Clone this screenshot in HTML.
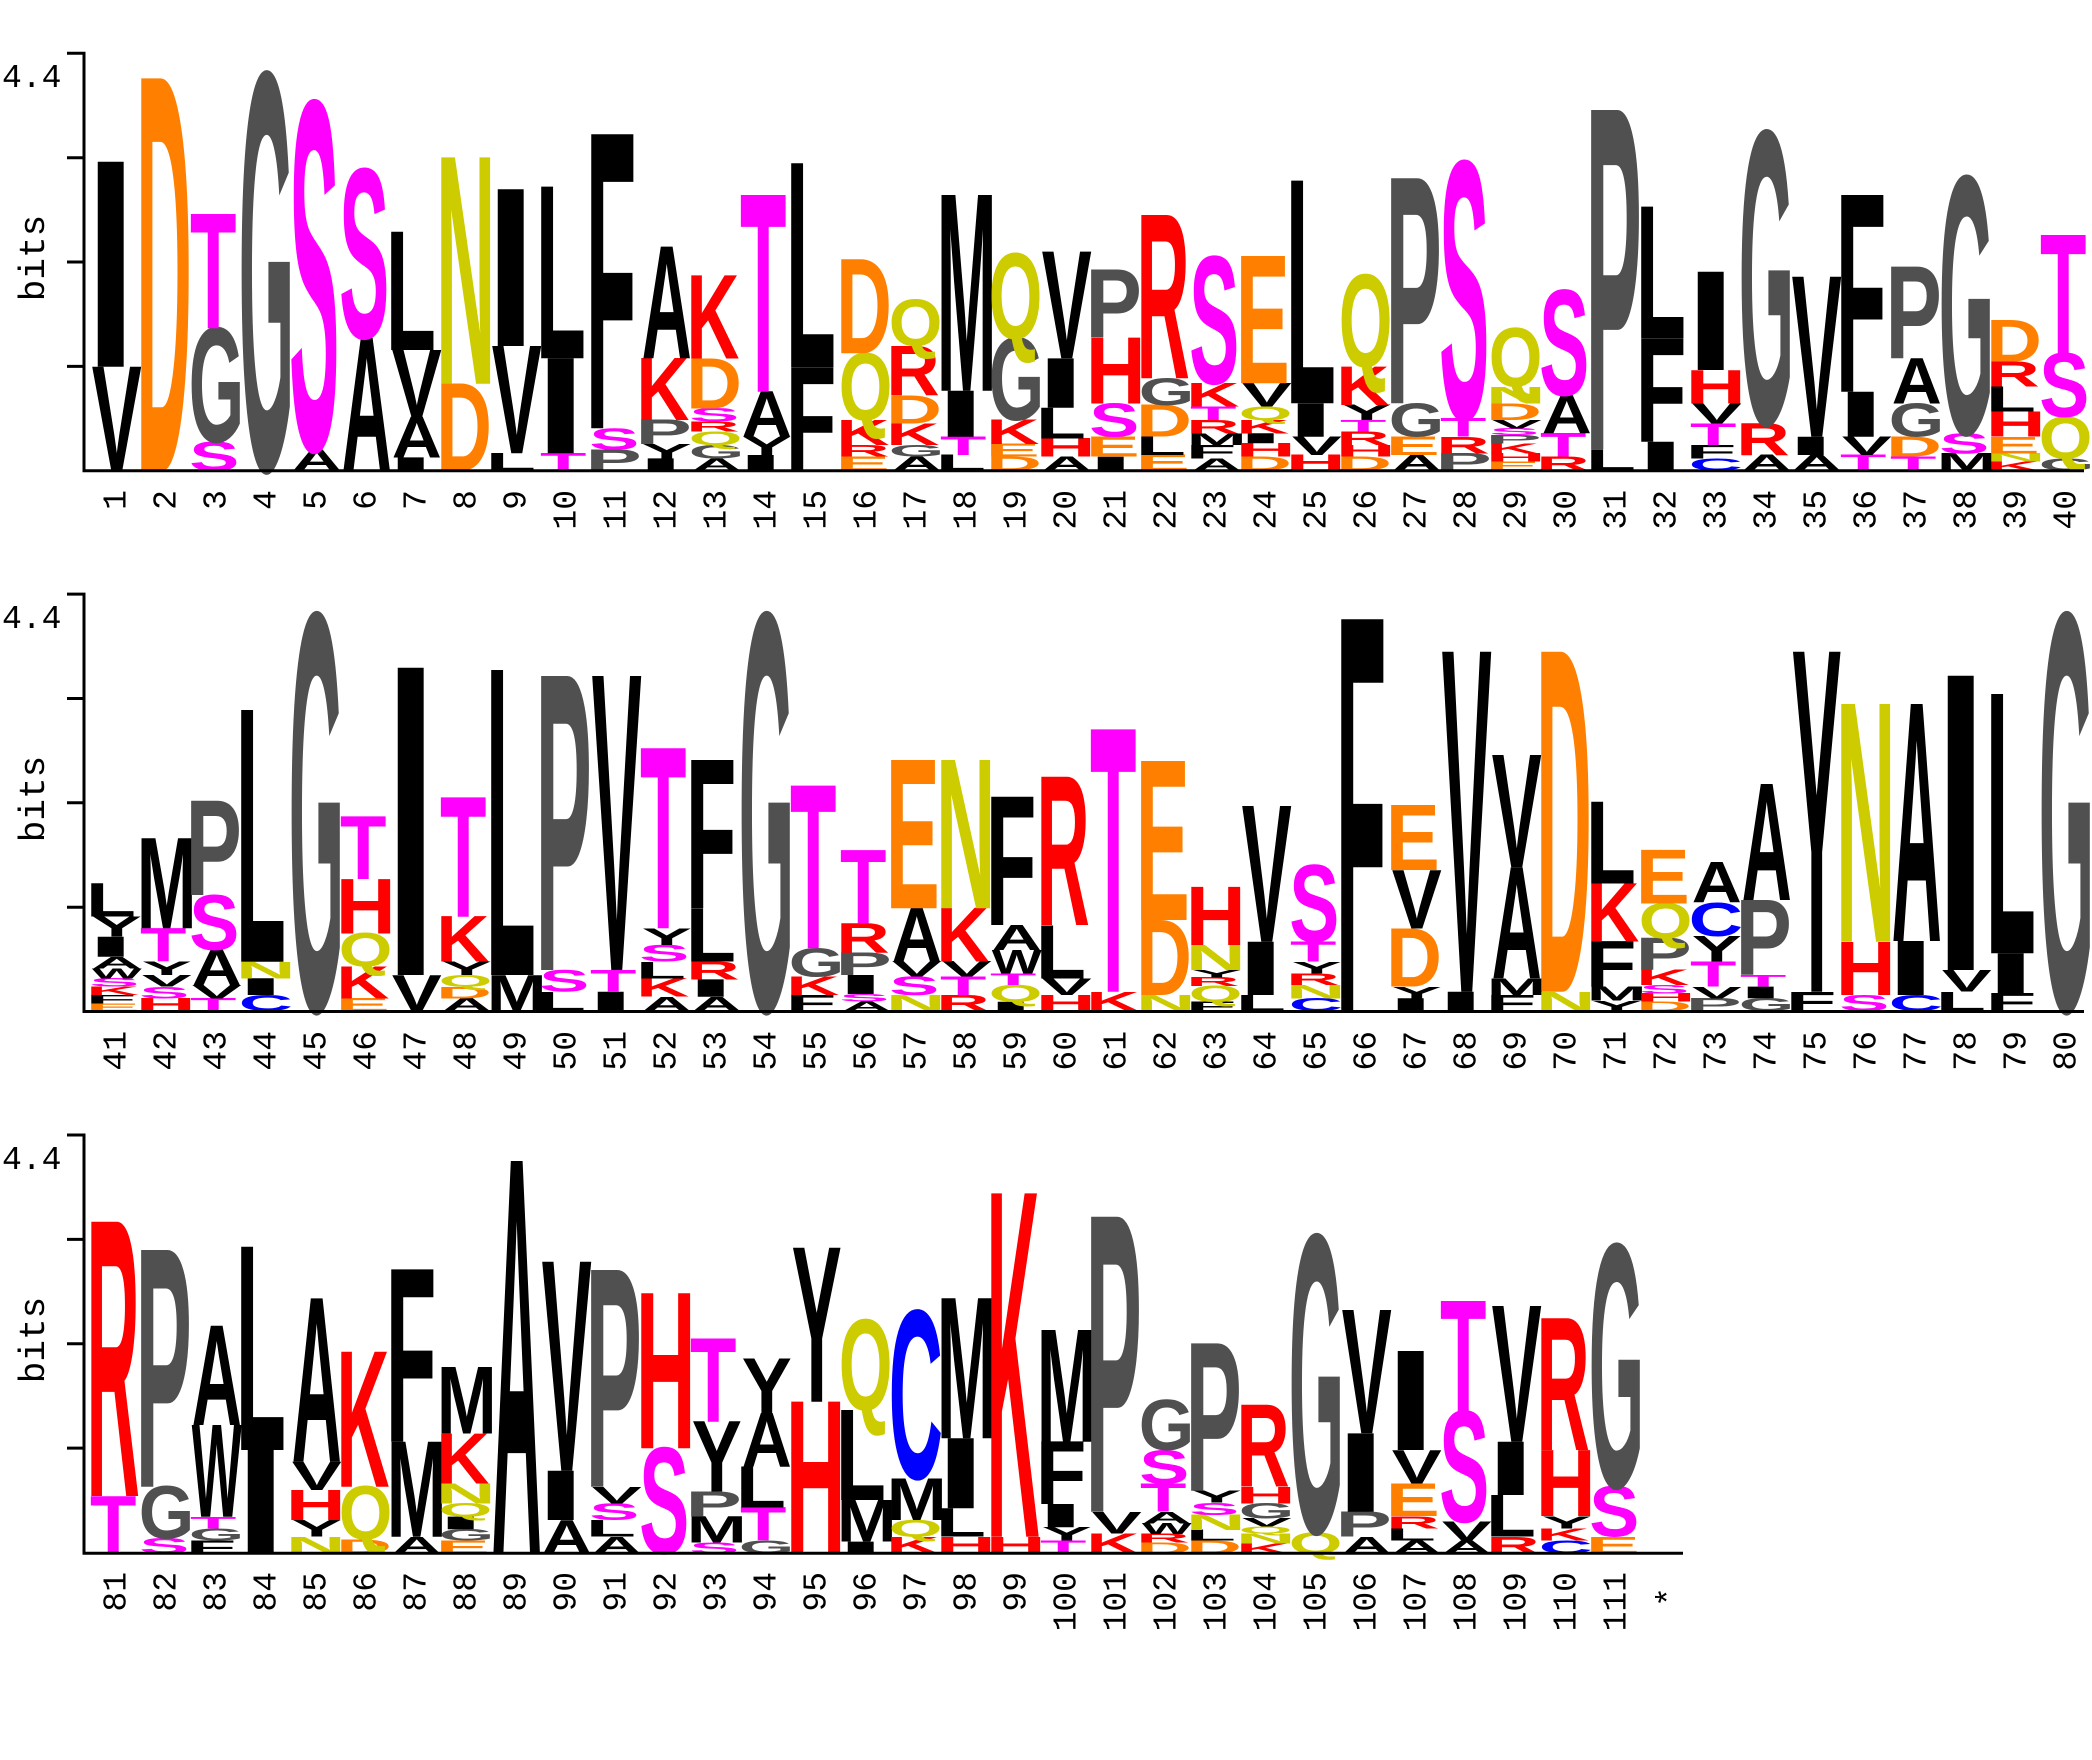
<!DOCTYPE html>
<html><head><meta charset="utf-8"><style>
body{margin:0;background:#fff}
svg{display:block}
text{font-family:"Liberation Sans",sans-serif;font-weight:bold;font-size:100px}
text.lb{font:33px "Liberation Mono",monospace;font-weight:normal;text-anchor:end;fill:#000}
text.yl{font:36px "Liberation Mono",monospace;font-weight:normal;text-anchor:middle;fill:#000}
text.tl{font:33px "Liberation Mono",monospace;font-weight:normal;fill:#000}
.A{fill:#000;transform:scale(.693,1.4535)}
.C{fill:#00f;transform:translate(-3px,0)scale(.75,1.4535)}
.D{fill:#ff8000;transform:translate(-5.6px,0)scale(.773,1.4535)}
.E{fill:#ff8000;transform:translate(-6px,0)scale(.81,1.4535)}
.F{fill:#000;transform:translate(-6px,0)scale(.83,1.4535)}
.G{fill:#505050;transform:translate(-3px,0)scale(.714,1.4535)}
.H{fill:#f00;transform:translate(-6px,0)scale(.831,1.4535)}
.I{fill:#000;transform:translate(-6px,0)scale(1.8,1.4535)}
.K{fill:#f00;transform:translate(-5.3px,0)scale(.734,1.4535)}
.L{fill:#000;transform:translate(-6px,0)scale(.823,1.4535)}
.M{fill:#000;transform:translate(-5px,0)scale(.72,1.4535)}
.N{fill:#cc0;transform:translate(-6px,0)scale(.831,1.4535)}
.P{fill:#505050;transform:translate(-6.2px,0)scale(.844,1.4535)}
.Q{fill:#cc0;transform:translate(-2.9px,0)scale(.69,1.4535)}
.R{fill:#f00;transform:translate(-5.3px,0)scale(.738,1.4535)}
.S{fill:#f0f;transform:translate(-2.5px,0)scale(.75,1.4535)}
.T{fill:#f0f;transform:translate(-1.7px,0)scale(.76,1.4535)}
.V{fill:#000;transform:scale(.75,1.4535)}
.W{fill:#000;transform:scale(.53,1.4535)}
.Y{fill:#000;transform:scale(.75,1.4535)}
</style></head><body>
<svg width="2092" height="1760" viewBox="0 0 2092 1760" xmlns="http://www.w3.org/2000/svg">
<rect width="2092" height="1760" fill="#fff"/>
<!-- Row 1 -->
<g transform="matrix(1,0,0,1.04,91.7,470.7)"><text class="V">V</text></g>
<g transform="matrix(1,0,0,2.05,91.7,366.7)"><text class="I">I</text></g>
<g transform="matrix(1,0,0,3.923,141.7,470.7)"><text class="D">D</text></g>
<g transform="matrix(1,0,0,.29,191.7,470.7)"><text class="S">S</text></g>
<g transform="matrix(1,0,0,1.133,191.7,441.7)"><text class="G">G</text></g>
<g transform="matrix(1,0,0,1.143,191.7,328.3)"><text class="T">T</text></g>
<g transform="matrix(1,0,0,3.933,241.7,469.3)"><text class="G">G</text></g>
<g transform="matrix(1,0,0,.213,291.7,470.7)"><text class="A">A</text></g>
<g transform="matrix(1,0,0,3.453,291.7,449.3)"><text class="S">S</text></g>
<g transform="matrix(1,0,0,1.33,341.7,470.7)"><text class="A">A</text></g>
<g transform="matrix(1,0,0,1.677,341.7,337.7)"><text class="S">S</text></g>
<g transform="matrix(1,0,0,.133,391.7,470.7)"><text class="I">I</text></g>
<g transform="matrix(1,0,0,.407,391.7,457.3)"><text class="A">A</text></g>
<g transform="matrix(1,0,0,.667,391.7,416.7)"><text class="V">V</text></g>
<g transform="matrix(1,0,0,1.183,391.7,350)"><text class="L">L</text></g>
<g transform="matrix(1,0,0,.87,441.7,470.7)"><text class="D">D</text></g>
<g transform="matrix(1,0,0,2.263,441.7,383.7)"><text class="N">N</text></g>
<g transform="matrix(1,0,0,.173,491.7,470.7)"><text class="L">L</text></g>
<g transform="matrix(1,0,0,1.073,491.7,453.3)"><text class="V">V</text></g>
<g transform="matrix(1,0,0,1.567,491.7,346)"><text class="I">I</text></g>
<g transform="matrix(1,0,0,.173,541.7,470.7)"><text class="T">T</text></g>
<g transform="matrix(1,0,0,.95,541.7,453.3)"><text class="I">I</text></g>
<g transform="matrix(1,0,0,1.717,541.7,358.3)"><text class="L">L</text></g>
<g transform="matrix(1,0,0,.213,591.7,470.7)"><text class="P">P</text></g>
<g transform="matrix(1,0,0,.21,591.7,449.3)"><text class="S">S</text></g>
<g transform="matrix(1,0,0,2.94,591.7,428.3)"><text class="F">F</text></g>
<g transform="matrix(1,0,0,.123,641.7,470.7)"><text class="I">I</text></g>
<g transform="matrix(1,0,0,.143,641.7,458.3)"><text class="Y">Y</text></g>
<g transform="matrix(1,0,0,.24,641.7,444)"><text class="P">P</text></g>
<g transform="matrix(1,0,0,.617,641.7,420)"><text class="K">K</text></g>
<g transform="matrix(1,0,0,1.117,641.7,358.3)"><text class="A">A</text></g>
<g transform="matrix(1,0,0,.123,691.7,470.7)"><text class="A">A</text></g>
<g transform="matrix(1,0,0,.133,691.7,458.3)"><text class="G">G</text></g>
<g transform="matrix(1,0,0,.133,691.7,445)"><text class="Q">Q</text></g>
<g transform="matrix(1,0,0,.10,691.7,431.7)"><text class="R">R</text></g>
<g transform="matrix(1,0,0,.133,691.7,421.7)"><text class="S">S</text></g>
<g transform="matrix(1,0,0,.50,691.7,408.3)"><text class="D">D</text></g>
<g transform="matrix(1,0,0,.833,691.7,358.3)"><text class="K">K</text></g>
<g transform="matrix(1,0,0,.157,741.7,470.7)"><text class="I">I</text></g>
<g transform="matrix(1,0,0,.183,741.7,455)"><text class="Y">Y</text></g>
<g transform="matrix(1,0,0,.45,741.7,436.7)"><text class="A">A</text></g>
<g transform="matrix(1,0,0,1.967,741.7,391.7)"><text class="T">T</text></g>
<g transform="matrix(1,0,0,1.033,791.7,470.7)"><text class="F">F</text></g>
<g transform="matrix(1,0,0,2.04,791.7,367.3)"><text class="L">L</text></g>
<g transform="matrix(1,0,0,.14,841.7,470.7)"><text class="E">E</text></g>
<g transform="matrix(1,0,0,.117,841.7,456.7)"><text class="R">R</text></g>
<g transform="matrix(1,0,0,.25,841.7,445)"><text class="K">K</text></g>
<g transform="matrix(1,0,0,.667,841.7,420)"><text class="Q">Q</text></g>
<g transform="matrix(1,0,0,.94,841.7,353.3)"><text class="D">D</text></g>
<g transform="matrix(1,0,0,.14,891.7,470.7)"><text class="A">A</text></g>
<g transform="matrix(1,0,0,.117,891.7,456.7)"><text class="G">G</text></g>
<g transform="matrix(1,0,0,.217,891.7,445)"><text class="K">K</text></g>
<g transform="matrix(1,0,0,.283,891.7,423.3)"><text class="D">D</text></g>
<g transform="matrix(1,0,0,.49,891.7,395)"><text class="R">R</text></g>
<g transform="matrix(1,0,0,.46,891.7,346)"><text class="Q">Q</text></g>
<g transform="matrix(1,0,0,.157,941.7,470.7)"><text class="L">L</text></g>
<g transform="matrix(1,0,0,.183,941.7,455)"><text class="T">T</text></g>
<g transform="matrix(1,0,0,.46,941.7,436.7)"><text class="I">I</text></g>
<g transform="matrix(1,0,0,1.957,941.7,390.7)"><text class="M">M</text></g>
<g transform="matrix(1,0,0,.14,991.7,470.7)"><text class="D">D</text></g>
<g transform="matrix(1,0,0,.127,991.7,456.7)"><text class="E">E</text></g>
<g transform="matrix(1,0,0,.24,991.7,444)"><text class="K">K</text></g>
<g transform="matrix(1,0,0,.817,991.7,420)"><text class="G">G</text></g>
<g transform="matrix(1,0,0,.85,991.7,338.3)"><text class="Q">Q</text></g>
<g transform="matrix(1,0,0,.14,1041.7,470.7)"><text class="A">A</text></g>
<g transform="matrix(1,0,0,.183,1041.7,456.7)"><text class="H">H</text></g>
<g transform="matrix(1,0,0,.307,1041.7,438.3)"><text class="L">L</text></g>
<g transform="matrix(1,0,0,.493,1041.7,407.7)"><text class="I">I</text></g>
<g transform="matrix(1,0,0,1.067,1041.7,358.3)"><text class="V">V</text></g>
<g transform="matrix(1,0,0,.14,1091.7,470.7)"><text class="I">I</text></g>
<g transform="matrix(1,0,0,.20,1091.7,456.7)"><text class="E">E</text></g>
<g transform="matrix(1,0,0,.333,1091.7,436.7)"><text class="S">S</text></g>
<g transform="matrix(1,0,0,.657,1091.7,403.3)"><text class="H">H</text></g>
<g transform="matrix(1,0,0,.677,1091.7,337.7)"><text class="P">P</text></g>
<g transform="matrix(1,0,0,.157,1141.7,470.7)"><text class="E">E</text></g>
<g transform="matrix(1,0,0,.183,1141.7,455)"><text class="L">L</text></g>
<g transform="matrix(1,0,0,.317,1141.7,436.7)"><text class="D">D</text></g>
<g transform="matrix(1,0,0,.267,1141.7,405)"><text class="G">G</text></g>
<g transform="matrix(1,0,0,1.633,1141.7,378.3)"><text class="R">R</text></g>
<g transform="matrix(1,0,0,.123,1191.7,470.7)"><text class="A">A</text></g>
<g transform="matrix(1,0,0,.133,1191.7,458.3)"><text class="F">F</text></g>
<g transform="matrix(1,0,0,.117,1191.7,445)"><text class="M">M</text></g>
<g transform="matrix(1,0,0,.133,1191.7,433.3)"><text class="R">R</text></g>
<g transform="matrix(1,0,0,.133,1191.7,420)"><text class="T">T</text></g>
<g transform="matrix(1,0,0,.233,1191.7,406.7)"><text class="K">K</text></g>
<g transform="matrix(1,0,0,1.26,1191.7,383.3)"><text class="S">S</text></g>
<g transform="matrix(1,0,0,.14,1241.7,470.7)"><text class="D">D</text></g>
<g transform="matrix(1,0,0,.133,1241.7,456.7)"><text class="H">H</text></g>
<g transform="matrix(1,0,0,.10,1241.7,443.3)"><text class="I">I</text></g>
<g transform="matrix(1,0,0,.133,1241.7,433.3)"><text class="K">K</text></g>
<g transform="matrix(1,0,0,.133,1241.7,420)"><text class="Q">Q</text></g>
<g transform="matrix(1,0,0,.233,1241.7,406.7)"><text class="V">V</text></g>
<g transform="matrix(1,0,0,1.273,1241.7,383.3)"><text class="E">E</text></g>
<g transform="matrix(1,0,0,.157,1291.7,470.7)"><text class="H">H</text></g>
<g transform="matrix(1,0,0,.183,1291.7,455)"><text class="V">V</text></g>
<g transform="matrix(1,0,0,.333,1291.7,436.7)"><text class="I">I</text></g>
<g transform="matrix(1,0,0,2.227,1291.7,403.3)"><text class="L">L</text></g>
<g transform="matrix(1,0,0,.14,1341.7,470.7)"><text class="D">D</text></g>
<g transform="matrix(1,0,0,.117,1341.7,456.7)"><text class="H">H</text></g>
<g transform="matrix(1,0,0,.133,1341.7,445)"><text class="R">R</text></g>
<g transform="matrix(1,0,0,.117,1341.7,431.7)"><text class="T">T</text></g>
<g transform="matrix(1,0,0,.15,1341.7,420)"><text class="Y">Y</text></g>
<g transform="matrix(1,0,0,.383,1341.7,405)"><text class="K">K</text></g>
<g transform="matrix(1,0,0,.917,1341.7,366.7)"><text class="Q">Q</text></g>
<g transform="matrix(1,0,0,.157,1391.7,470.7)"><text class="A">A</text></g>
<g transform="matrix(1,0,0,.183,1391.7,455)"><text class="E">E</text></g>
<g transform="matrix(1,0,0,.333,1391.7,436.7)"><text class="G">G</text></g>
<g transform="matrix(1,0,0,2.25,1391.7,403.3)"><text class="P">P</text></g>
<g transform="matrix(1,0,0,.173,1441.7,470.7)"><text class="P">P</text></g>
<g transform="matrix(1,0,0,.167,1441.7,453.3)"><text class="R">R</text></g>
<g transform="matrix(1,0,0,.183,1441.7,436.7)"><text class="T">T</text></g>
<g transform="matrix(1,0,0,2.55,1441.7,418.3)"><text class="S">S</text></g>
<g transform="matrix(1,0,0,.09,1491.7,470.7)"><text class="E">E</text></g>
<g transform="matrix(1,0,0,.083,1491.7,461.7)"><text class="H">H</text></g>
<g transform="matrix(1,0,0,.10,1491.7,453.3)"><text class="K">K</text></g>
<g transform="matrix(1,0,0,.083,1491.7,443.3)"><text class="P">P</text></g>
<g transform="matrix(1,0,0,.067,1491.7,435)"><text class="S">S</text></g>
<g transform="matrix(1,0,0,.083,1491.7,428.3)"><text class="V">V</text></g>
<g transform="matrix(1,0,0,.167,1491.7,420)"><text class="D">D</text></g>
<g transform="matrix(1,0,0,.167,1491.7,403.3)"><text class="N">N</text></g>
<g transform="matrix(1,0,0,.583,1491.7,386.7)"><text class="Q">Q</text></g>
<g transform="matrix(1,0,0,.14,1541.7,470.7)"><text class="R">R</text></g>
<g transform="matrix(1,0,0,.233,1541.7,456.7)"><text class="T">T</text></g>
<g transform="matrix(1,0,0,.383,1541.7,433.3)"><text class="A">A</text></g>
<g transform="matrix(1,0,0,1.043,1541.7,395)"><text class="S">S</text></g>
<g transform="matrix(1,0,0,.213,1591.7,470.7)"><text class="L">L</text></g>
<g transform="matrix(1,0,0,3.393,1591.7,449.3)"><text class="P">P</text></g>
<g transform="matrix(1,0,0,.29,1641.7,470.7)"><text class="I">I</text></g>
<g transform="matrix(1,0,0,1.033,1641.7,441.7)"><text class="F">F</text></g>
<g transform="matrix(1,0,0,1.317,1641.7,338.3)"><text class="L">L</text></g>
<g transform="matrix(1,0,0,.123,1691.7,470.7)"><text class="C">C</text></g>
<g transform="matrix(1,0,0,.133,1691.7,458.3)"><text class="F">F</text></g>
<g transform="matrix(1,0,0,.217,1691.7,445)"><text class="T">T</text></g>
<g transform="matrix(1,0,0,.20,1691.7,423.3)"><text class="V">V</text></g>
<g transform="matrix(1,0,0,.333,1691.7,403.3)"><text class="H">H</text></g>
<g transform="matrix(1,0,0,.983,1691.7,370)"><text class="I">I</text></g>
<g transform="matrix(1,0,0,.157,1741.7,470.7)"><text class="A">A</text></g>
<g transform="matrix(1,0,0,.317,1741.7,455)"><text class="R">R</text></g>
<g transform="matrix(1,0,0,2.90,1741.7,423.3)"><text class="G">G</text></g>
<g transform="matrix(1,0,0,.157,1791.7,470.7)"><text class="A">A</text></g>
<g transform="matrix(1,0,0,.183,1791.7,455)"><text class="I">I</text></g>
<g transform="matrix(1,0,0,1.60,1791.7,436.7)"><text class="V">V</text></g>
<g transform="matrix(1,0,0,.157,1841.7,470.7)"><text class="T">T</text></g>
<g transform="matrix(1,0,0,.183,1841.7,455)"><text class="V">V</text></g>
<g transform="matrix(1,0,0,.45,1841.7,436.7)"><text class="I">I</text></g>
<g transform="matrix(1,0,0,1.967,1841.7,391.7)"><text class="F">F</text></g>
<g transform="matrix(1,0,0,.14,1891.7,470.7)"><text class="T">T</text></g>
<g transform="matrix(1,0,0,.20,1891.7,456.7)"><text class="D">D</text></g>
<g transform="matrix(1,0,0,.333,1891.7,436.7)"><text class="G">G</text></g>
<g transform="matrix(1,0,0,.45,1891.7,403.3)"><text class="A">A</text></g>
<g transform="matrix(1,0,0,.917,1891.7,358.3)"><text class="P">P</text></g>
<g transform="matrix(1,0,0,.173,1941.7,470.7)"><text class="M">M</text></g>
<g transform="matrix(1,0,0,.20,1941.7,453.3)"><text class="S">S</text></g>
<g transform="matrix(1,0,0,2.55,1941.7,433.3)"><text class="G">G</text></g>
<g transform="matrix(1,0,0,.09,1991.7,470.7)"><text class="K">K</text></g>
<g transform="matrix(1,0,0,.083,1991.7,461.7)"><text class="N">N</text></g>
<g transform="matrix(1,0,0,.167,1991.7,453.3)"><text class="E">E</text></g>
<g transform="matrix(1,0,0,.25,1991.7,436.7)"><text class="H">H</text></g>
<g transform="matrix(1,0,0,.25,1991.7,411.7)"><text class="L">L</text></g>
<g transform="matrix(1,0,0,.25,1991.7,386.7)"><text class="R">R</text></g>
<g transform="matrix(1,0,0,.417,1991.7,361.7)"><text class="D">D</text></g>
<g transform="matrix(1,0,0,.123,2041.7,470.7)"><text class="G">G</text></g>
<g transform="matrix(1,0,0,.417,2041.7,458.3)"><text class="Q">Q</text></g>
<g transform="matrix(1,0,0,.633,2041.7,416.7)"><text class="S">S</text></g>
<g transform="matrix(1,0,0,1.183,2041.7,353.3)"><text class="T">T</text></g>
<!-- Row 2 -->
<g transform="matrix(1,0,0,.077,91.7,1011)"><text class="E">E</text></g>
<g transform="matrix(1,0,0,.083,91.7,1003.3)"><text class="F">F</text></g>
<g transform="matrix(1,0,0,.083,91.7,995)"><text class="K">K</text></g>
<g transform="matrix(1,0,0,.083,91.7,986.7)"><text class="S">S</text></g>
<g transform="matrix(1,0,0,.10,91.7,978.3)"><text class="W">W</text></g>
<g transform="matrix(1,0,0,.117,91.7,968.3)"><text class="A">A</text></g>
<g transform="matrix(1,0,0,.20,91.7,956.7)"><text class="I">I</text></g>
<g transform="matrix(1,0,0,.20,91.7,936.7)"><text class="Y">Y</text></g>
<g transform="matrix(1,0,0,.333,91.7,916.7)"><text class="L">L</text></g>
<g transform="matrix(1,0,0,.127,141.7,1011)"><text class="H">H</text></g>
<g transform="matrix(1,0,0,.117,141.7,998.3)"><text class="S">S</text></g>
<g transform="matrix(1,0,0,.117,141.7,986.7)"><text class="V">V</text></g>
<g transform="matrix(1,0,0,.133,141.7,975)"><text class="Y">Y</text></g>
<g transform="matrix(1,0,0,.333,141.7,961.7)"><text class="T">T</text></g>
<g transform="matrix(1,0,0,.90,141.7,928.3)"><text class="M">M</text></g>
<g transform="matrix(1,0,0,.127,191.7,1011)"><text class="T">T</text></g>
<g transform="matrix(1,0,0,.133,191.7,998.3)"><text class="V">V</text></g>
<g transform="matrix(1,0,0,.357,191.7,985)"><text class="A">A</text></g>
<g transform="matrix(1,0,0,.543,191.7,949.3)"><text class="S">S</text></g>
<g transform="matrix(1,0,0,.943,191.7,895)"><text class="P">P</text></g>
<g transform="matrix(1,0,0,.16,241.7,1011)"><text class="C">C</text></g>
<g transform="matrix(1,0,0,.167,241.7,995)"><text class="I">I</text></g>
<g transform="matrix(1,0,0,.167,241.7,978.3)"><text class="N">N</text></g>
<g transform="matrix(1,0,0,2.517,241.7,961.7)"><text class="L">L</text></g>
<g transform="matrix(1,0,0,3.933,291.7,1010)"><text class="G">G</text></g>
<g transform="matrix(1,0,0,.127,341.7,1011)"><text class="E">E</text></g>
<g transform="matrix(1,0,0,.317,341.7,998.3)"><text class="K">K</text></g>
<g transform="matrix(1,0,0,.333,341.7,966.7)"><text class="Q">Q</text></g>
<g transform="matrix(1,0,0,.543,341.7,933.3)"><text class="H">H</text></g>
<g transform="matrix(1,0,0,.623,341.7,879)"><text class="T">T</text></g>
<g transform="matrix(1,0,0,.36,391.7,1011)"><text class="V">V</text></g>
<g transform="matrix(1,0,0,3.073,391.7,975)"><text class="I">I</text></g>
<g transform="matrix(1,0,0,.127,441.7,1011)"><text class="A">A</text></g>
<g transform="matrix(1,0,0,.117,441.7,998.3)"><text class="D">D</text></g>
<g transform="matrix(1,0,0,.117,441.7,986.7)"><text class="Q">Q</text></g>
<g transform="matrix(1,0,0,.133,441.7,975)"><text class="Y">Y</text></g>
<g transform="matrix(1,0,0,.45,441.7,961.7)"><text class="K">K</text></g>
<g transform="matrix(1,0,0,1.193,441.7,916.7)"><text class="T">T</text></g>
<g transform="matrix(1,0,0,.36,491.7,1011)"><text class="M">M</text></g>
<g transform="matrix(1,0,0,3.05,491.7,975)"><text class="L">L</text></g>
<g transform="matrix(1,0,0,.193,541.7,1011)"><text class="L">L</text></g>
<g transform="matrix(1,0,0,.217,541.7,991.7)"><text class="S">S</text></g>
<g transform="matrix(1,0,0,2.94,541.7,970)"><text class="P">P</text></g>
<g transform="matrix(1,0,0,.193,591.7,1011)"><text class="I">I</text></g>
<g transform="matrix(1,0,0,.217,591.7,991.7)"><text class="T">T</text></g>
<g transform="matrix(1,0,0,2.94,591.7,970)"><text class="V">V</text></g>
<g transform="matrix(1,0,0,.143,641.7,1011)"><text class="A">A</text></g>
<g transform="matrix(1,0,0,.183,641.7,996.7)"><text class="K">K</text></g>
<g transform="matrix(1,0,0,.167,641.7,978.3)"><text class="L">L</text></g>
<g transform="matrix(1,0,0,.167,641.7,961.7)"><text class="S">S</text></g>
<g transform="matrix(1,0,0,.167,641.7,945)"><text class="Y">Y</text></g>
<g transform="matrix(1,0,0,1.80,641.7,928.3)"><text class="T">T</text></g>
<g transform="matrix(1,0,0,.143,691.7,1011)"><text class="A">A</text></g>
<g transform="matrix(1,0,0,.173,691.7,996.7)"><text class="I">I</text></g>
<g transform="matrix(1,0,0,.177,691.7,979.3)"><text class="R">R</text></g>
<g transform="matrix(1,0,0,.533,691.7,961.7)"><text class="L">L</text></g>
<g transform="matrix(1,0,0,1.483,691.7,908.3)"><text class="F">F</text></g>
<g transform="matrix(1,0,0,3.933,741.7,1010)"><text class="G">G</text></g>
<g transform="matrix(1,0,0,.16,791.7,1011)"><text class="F">F</text></g>
<g transform="matrix(1,0,0,.183,791.7,995)"><text class="K">K</text></g>
<g transform="matrix(1,0,0,.283,791.7,976.7)"><text class="G">G</text></g>
<g transform="matrix(1,0,0,1.627,791.7,948.3)"><text class="T">T</text></g>
<g transform="matrix(1,0,0,.093,841.7,1011)"><text class="A">A</text></g>
<g transform="matrix(1,0,0,.077,841.7,1001.7)"><text class="S">S</text></g>
<g transform="matrix(1,0,0,.19,841.7,994)"><text class="I">I</text></g>
<g transform="matrix(1,0,0,.223,841.7,975)"><text class="P">P</text></g>
<g transform="matrix(1,0,0,.293,841.7,952.7)"><text class="R">R</text></g>
<g transform="matrix(1,0,0,.733,841.7,923.3)"><text class="T">T</text></g>
<g transform="matrix(1,0,0,.16,891.7,1011)"><text class="N">N</text></g>
<g transform="matrix(1,0,0,.183,891.7,995)"><text class="S">S</text></g>
<g transform="matrix(1,0,0,.15,891.7,976.7)"><text class="V">V</text></g>
<g transform="matrix(1,0,0,.533,891.7,961.7)"><text class="A">A</text></g>
<g transform="matrix(1,0,0,1.483,891.7,908.3)"><text class="E">E</text></g>
<g transform="matrix(1,0,0,.16,941.7,1011)"><text class="R">R</text></g>
<g transform="matrix(1,0,0,.183,941.7,995)"><text class="T">T</text></g>
<g transform="matrix(1,0,0,.15,941.7,976.7)"><text class="V">V</text></g>
<g transform="matrix(1,0,0,.533,941.7,961.7)"><text class="K">K</text></g>
<g transform="matrix(1,0,0,1.483,941.7,908.3)"><text class="N">N</text></g>
<g transform="matrix(1,0,0,.093,991.7,1011)"><text class="I">I</text></g>
<g transform="matrix(1,0,0,.167,991.7,1001.7)"><text class="Q">Q</text></g>
<g transform="matrix(1,0,0,.117,991.7,985)"><text class="T">T</text></g>
<g transform="matrix(1,0,0,.233,991.7,973.3)"><text class="W">W</text></g>
<g transform="matrix(1,0,0,.25,991.7,950)"><text class="A">A</text></g>
<g transform="matrix(1,0,0,1.283,991.7,925)"><text class="F">F</text></g>
<g transform="matrix(1,0,0,.16,1041.7,1011)"><text class="H">H</text></g>
<g transform="matrix(1,0,0,.167,1041.7,995)"><text class="V">V</text></g>
<g transform="matrix(1,0,0,.533,1041.7,978.3)"><text class="L">L</text></g>
<g transform="matrix(1,0,0,1.483,1041.7,925)"><text class="R">R</text></g>
<g transform="matrix(1,0,0,.193,1091.7,1011)"><text class="K">K</text></g>
<g transform="matrix(1,0,0,2.623,1091.7,991.7)"><text class="T">T</text></g>
<g transform="matrix(1,0,0,.16,1141.7,1011)"><text class="N">N</text></g>
<g transform="matrix(1,0,0,.75,1141.7,995)"><text class="D">D</text></g>
<g transform="matrix(1,0,0,1.59,1141.7,920)"><text class="E">E</text></g>
<g transform="matrix(1,0,0,.093,1191.7,1011)"><text class="F">F</text></g>
<g transform="matrix(1,0,0,.157,1191.7,1001.7)"><text class="Q">Q</text></g>
<g transform="matrix(1,0,0,.087,1191.7,986)"><text class="R">R</text></g>
<g transform="matrix(1,0,0,.073,1191.7,977.3)"><text class="Y">Y</text></g>
<g transform="matrix(1,0,0,.25,1191.7,970)"><text class="N">N</text></g>
<g transform="matrix(1,0,0,.583,1191.7,945)"><text class="H">H</text></g>
<g transform="matrix(1,0,0,.16,1241.7,1011)"><text class="L">L</text></g>
<g transform="matrix(1,0,0,.533,1241.7,995)"><text class="I">I</text></g>
<g transform="matrix(1,0,0,1.357,1241.7,941.7)"><text class="V">V</text></g>
<g transform="matrix(1,0,0,.127,1291.7,1011)"><text class="C">C</text></g>
<g transform="matrix(1,0,0,.133,1291.7,998.3)"><text class="N">N</text></g>
<g transform="matrix(1,0,0,.117,1291.7,985)"><text class="R">R</text></g>
<g transform="matrix(1,0,0,.117,1291.7,973.3)"><text class="Y">Y</text></g>
<g transform="matrix(1,0,0,.20,1291.7,961.7)"><text class="T">T</text></g>
<g transform="matrix(1,0,0,.757,1291.7,941.7)"><text class="S">S</text></g>
<g transform="matrix(1,0,0,3.917,1341.7,1011)"><text class="F">F</text></g>
<g transform="matrix(1,0,0,.127,1391.7,1011)"><text class="I">I</text></g>
<g transform="matrix(1,0,0,.117,1391.7,998.3)"><text class="Y">Y</text></g>
<g transform="matrix(1,0,0,.583,1391.7,986.7)"><text class="D">D</text></g>
<g transform="matrix(1,0,0,.583,1391.7,928.3)"><text class="V">V</text></g>
<g transform="matrix(1,0,0,.65,1391.7,870)"><text class="E">E</text></g>
<g transform="matrix(1,0,0,.193,1441.7,1011)"><text class="I">I</text></g>
<g transform="matrix(1,0,0,3.40,1441.7,991.7)"><text class="V">V</text></g>
<g transform="matrix(1,0,0,.16,1491.7,1011)"><text class="F">F</text></g>
<g transform="matrix(1,0,0,.167,1491.7,995)"><text class="M">M</text></g>
<g transform="matrix(1,0,0,1.11,1491.7,978.3)"><text class="A">A</text></g>
<g transform="matrix(1,0,0,1.123,1491.7,867.3)"><text class="V">V</text></g>
<g transform="matrix(1,0,0,.193,1541.7,1011)"><text class="N">N</text></g>
<g transform="matrix(1,0,0,3.40,1541.7,991.7)"><text class="D">D</text></g>
<g transform="matrix(1,0,0,.103,1591.7,1011)"><text class="Y">Y</text></g>
<g transform="matrix(1,0,0,.14,1591.7,1000.7)"><text class="M">M</text></g>
<g transform="matrix(1,0,0,.45,1591.7,986.7)"><text class="F">F</text></g>
<g transform="matrix(1,0,0,.583,1591.7,941.7)"><text class="K">K</text></g>
<g transform="matrix(1,0,0,.817,1591.7,883.3)"><text class="L">L</text></g>
<g transform="matrix(1,0,0,.093,1641.7,1011)"><text class="D">D</text></g>
<g transform="matrix(1,0,0,.083,1641.7,1001.7)"><text class="H">H</text></g>
<g transform="matrix(1,0,0,.083,1641.7,993.3)"><text class="S">S</text></g>
<g transform="matrix(1,0,0,.15,1641.7,985)"><text class="K">K</text></g>
<g transform="matrix(1,0,0,.317,1641.7,970)"><text class="P">P</text></g>
<g transform="matrix(1,0,0,.35,1641.7,938.3)"><text class="Q">Q</text></g>
<g transform="matrix(1,0,0,.533,1641.7,903.3)"><text class="E">E</text></g>
<g transform="matrix(1,0,0,.127,1691.7,1011)"><text class="P">P</text></g>
<g transform="matrix(1,0,0,.117,1691.7,998.3)"><text class="V">V</text></g>
<g transform="matrix(1,0,0,.25,1691.7,986.7)"><text class="T">T</text></g>
<g transform="matrix(1,0,0,.257,1691.7,961.7)"><text class="Y">Y</text></g>
<g transform="matrix(1,0,0,.333,1691.7,936)"><text class="C">C</text></g>
<g transform="matrix(1,0,0,.40,1691.7,902.7)"><text class="A">A</text></g>
<g transform="matrix(1,0,0,.127,1741.7,1011)"><text class="G">G</text></g>
<g transform="matrix(1,0,0,.117,1741.7,998.3)"><text class="I">I</text></g>
<g transform="matrix(1,0,0,.117,1741.7,986.7)"><text class="T">T</text></g>
<g transform="matrix(1,0,0,.75,1741.7,975)"><text class="P">P</text></g>
<g transform="matrix(1,0,0,1.16,1741.7,900)"><text class="A">A</text></g>
<g transform="matrix(1,0,0,.193,1791.7,1011)"><text class="F">F</text></g>
<g transform="matrix(1,0,0,3.40,1791.7,991.7)"><text class="Y">Y</text></g>
<g transform="matrix(1,0,0,.16,1841.7,1011)"><text class="S">S</text></g>
<g transform="matrix(1,0,0,.533,1841.7,995)"><text class="H">H</text></g>
<g transform="matrix(1,0,0,2.377,1841.7,941.7)"><text class="N">N</text></g>
<g transform="matrix(1,0,0,.16,1891.7,1011)"><text class="C">C</text></g>
<g transform="matrix(1,0,0,.54,1891.7,995)"><text class="I">I</text></g>
<g transform="matrix(1,0,0,2.37,1891.7,941)"><text class="A">A</text></g>
<g transform="matrix(1,0,0,.193,1941.7,1011)"><text class="L">L</text></g>
<g transform="matrix(1,0,0,.217,1941.7,991.7)"><text class="V">V</text></g>
<g transform="matrix(1,0,0,2.943,1941.7,970)"><text class="I">I</text></g>
<g transform="matrix(1,0,0,.177,1991.7,1011)"><text class="F">F</text></g>
<g transform="matrix(1,0,0,.40,1991.7,993.3)"><text class="I">I</text></g>
<g transform="matrix(1,0,0,2.593,1991.7,953.3)"><text class="L">L</text></g>
<g transform="matrix(1,0,0,3.933,2041.7,1010)"><text class="G">G</text></g>
<!-- Row 3 -->
<g transform="matrix(1,0,0,.573,91.7,1553.3)"><text class="T">T</text></g>
<g transform="matrix(1,0,0,2.743,91.7,1496)"><text class="R">R</text></g>
<g transform="matrix(1,0,0,.15,141.7,1553.3)"><text class="S">S</text></g>
<g transform="matrix(1,0,0,.517,141.7,1538.3)"><text class="G">G</text></g>
<g transform="matrix(1,0,0,2.367,141.7,1486.7)"><text class="P">P</text></g>
<g transform="matrix(1,0,0,.127,191.7,1553.3)"><text class="F">F</text></g>
<g transform="matrix(1,0,0,.123,191.7,1540.7)"><text class="G">G</text></g>
<g transform="matrix(1,0,0,.117,191.7,1528.3)"><text class="T">T</text></g>
<g transform="matrix(1,0,0,.917,191.7,1516.7)"><text class="W">W</text></g>
<g transform="matrix(1,0,0,.993,191.7,1425)"><text class="A">A</text></g>
<g transform="matrix(1,0,0,1.033,241.7,1553.3)"><text class="I">I</text></g>
<g transform="matrix(1,0,0,2.033,241.7,1450)"><text class="L">L</text></g>
<g transform="matrix(1,0,0,.167,291.7,1553.3)"><text class="N">N</text></g>
<g transform="matrix(1,0,0,.167,291.7,1536.7)"><text class="Y">Y</text></g>
<g transform="matrix(1,0,0,.30,291.7,1520)"><text class="H">H</text></g>
<g transform="matrix(1,0,0,.283,291.7,1490)"><text class="V">V</text></g>
<g transform="matrix(1,0,0,1.633,291.7,1461.7)"><text class="A">A</text></g>
<g transform="matrix(1,0,0,.14,341.7,1553.3)"><text class="D">D</text></g>
<g transform="matrix(1,0,0,.527,341.7,1539.3)"><text class="Q">Q</text></g>
<g transform="matrix(1,0,0,1.35,341.7,1486.7)"><text class="K">K</text></g>
<g transform="matrix(1,0,0,.167,391.7,1553.3)"><text class="A">A</text></g>
<g transform="matrix(1,0,0,.95,391.7,1536.7)"><text class="M">M</text></g>
<g transform="matrix(1,0,0,1.723,391.7,1441.7)"><text class="F">F</text></g>
<g transform="matrix(1,0,0,.127,441.7,1553.3)"><text class="E">E</text></g>
<g transform="matrix(1,0,0,.113,441.7,1540.7)"><text class="G">G</text></g>
<g transform="matrix(1,0,0,.127,441.7,1529.3)"><text class="I">I</text></g>
<g transform="matrix(1,0,0,.133,441.7,1516.7)"><text class="Q">Q</text></g>
<g transform="matrix(1,0,0,.20,441.7,1503.3)"><text class="N">N</text></g>
<g transform="matrix(1,0,0,.50,441.7,1483.3)"><text class="K">K</text></g>
<g transform="matrix(1,0,0,.667,441.7,1433.3)"><text class="M">M</text></g>
<g transform="matrix(1,0,0,3.923,491.7,1553.3)"><text class="A">A</text></g>
<g transform="matrix(1,0,0,.333,541.7,1553.3)"><text class="A">A</text></g>
<g transform="matrix(1,0,0,.493,541.7,1520)"><text class="I">I</text></g>
<g transform="matrix(1,0,0,2.09,541.7,1470.7)"><text class="V">V</text></g>
<g transform="matrix(1,0,0,.167,591.7,1553.3)"><text class="A">A</text></g>
<g transform="matrix(1,0,0,.167,591.7,1536.7)"><text class="L">L</text></g>
<g transform="matrix(1,0,0,.167,591.7,1520)"><text class="S">S</text></g>
<g transform="matrix(1,0,0,.167,591.7,1503.3)"><text class="V">V</text></g>
<g transform="matrix(1,0,0,2.167,591.7,1486.7)"><text class="P">P</text></g>
<g transform="matrix(1,0,0,1.05,641.7,1553.3)"><text class="S">S</text></g>
<g transform="matrix(1,0,0,1.55,641.7,1448.3)"><text class="H">H</text></g>
<g transform="matrix(1,0,0,.107,691.7,1553.3)"><text class="S">S</text></g>
<g transform="matrix(1,0,0,.26,691.7,1542.7)"><text class="M">M</text></g>
<g transform="matrix(1,0,0,.25,691.7,1516.7)"><text class="P">P</text></g>
<g transform="matrix(1,0,0,.70,691.7,1491.7)"><text class="Y">Y</text></g>
<g transform="matrix(1,0,0,.833,691.7,1421.7)"><text class="T">T</text></g>
<g transform="matrix(1,0,0,.127,741.7,1553.3)"><text class="G">G</text></g>
<g transform="matrix(1,0,0,.333,741.7,1540.7)"><text class="T">T</text></g>
<g transform="matrix(1,0,0,.407,741.7,1507.3)"><text class="L">L</text></g>
<g transform="matrix(1,0,0,.533,741.7,1466.7)"><text class="A">A</text></g>
<g transform="matrix(1,0,0,.55,741.7,1413.3)"><text class="Y">Y</text></g>
<g transform="matrix(1,0,0,1.517,791.7,1553.3)"><text class="H">H</text></g>
<g transform="matrix(1,0,0,1.54,791.7,1401.7)"><text class="Y">Y</text></g>
<g transform="matrix(1,0,0,.117,841.7,1553.3)"><text class="I">I</text></g>
<g transform="matrix(1,0,0,.417,841.7,1541.7)"><text class="M">M</text></g>
<g transform="matrix(1,0,0,.90,841.7,1500)"><text class="L">L</text></g>
<g transform="matrix(1,0,0,.90,841.7,1410)"><text class="Q">Q</text></g>
<g transform="matrix(1,0,0,.167,891.7,1553.3)"><text class="K">K</text></g>
<g transform="matrix(1,0,0,.167,891.7,1536.7)"><text class="Q">Q</text></g>
<g transform="matrix(1,0,0,.417,891.7,1520)"><text class="M">M</text></g>
<g transform="matrix(1,0,0,1.667,891.7,1478.3)"><text class="C">C</text></g>
<g transform="matrix(1,0,0,.167,941.7,1553.3)"><text class="H">H</text></g>
<g transform="matrix(1,0,0,.283,941.7,1536.7)"><text class="L">L</text></g>
<g transform="matrix(1,0,0,.70,941.7,1508.3)"><text class="I">I</text></g>
<g transform="matrix(1,0,0,1.40,941.7,1438.3)"><text class="M">M</text></g>
<g transform="matrix(1,0,0,.167,991.7,1553.3)"><text class="H">H</text></g>
<g transform="matrix(1,0,0,3.433,991.7,1536.7)"><text class="K">K</text></g>
<g transform="matrix(1,0,0,.127,1041.7,1553.3)"><text class="T">T</text></g>
<g transform="matrix(1,0,0,.133,1041.7,1540.7)"><text class="Y">Y</text></g>
<g transform="matrix(1,0,0,.233,1041.7,1527.3)"><text class="I">I</text></g>
<g transform="matrix(1,0,0,.623,1041.7,1504)"><text class="F">F</text></g>
<g transform="matrix(1,0,0,1.117,1041.7,1441.7)"><text class="M">M</text></g>
<g transform="matrix(1,0,0,.20,1091.7,1553.3)"><text class="K">K</text></g>
<g transform="matrix(1,0,0,.217,1091.7,1533.3)"><text class="V">V</text></g>
<g transform="matrix(1,0,0,2.95,1091.7,1511.7)"><text class="P">P</text></g>
<g transform="matrix(1,0,0,.107,1141.7,1553.3)"><text class="D">D</text></g>
<g transform="matrix(1,0,0,.087,1141.7,1542.7)"><text class="R">R</text></g>
<g transform="matrix(1,0,0,.107,1141.7,1534)"><text class="W">W</text></g>
<g transform="matrix(1,0,0,.117,1141.7,1523.3)"><text class="A">A</text></g>
<g transform="matrix(1,0,0,.283,1141.7,1511.7)"><text class="T">T</text></g>
<g transform="matrix(1,0,0,.333,1141.7,1483.3)"><text class="S">S</text></g>
<g transform="matrix(1,0,0,.50,1141.7,1450)"><text class="G">G</text></g>
<g transform="matrix(1,0,0,.127,1191.7,1553.3)"><text class="D">D</text></g>
<g transform="matrix(1,0,0,.107,1191.7,1540.7)"><text class="L">L</text></g>
<g transform="matrix(1,0,0,.15,1191.7,1530)"><text class="N">N</text></g>
<g transform="matrix(1,0,0,.123,1191.7,1515)"><text class="S">S</text></g>
<g transform="matrix(1,0,0,.12,1191.7,1502.7)"><text class="Y">Y</text></g>
<g transform="matrix(1,0,0,1.473,1191.7,1490.7)"><text class="P">P</text></g>
<g transform="matrix(1,0,0,.10,1241.7,1553.3)"><text class="K">K</text></g>
<g transform="matrix(1,0,0,.10,1241.7,1543.3)"><text class="N">N</text></g>
<g transform="matrix(1,0,0,.067,1241.7,1533.3)"><text class="Q">Q</text></g>
<g transform="matrix(1,0,0,.083,1241.7,1526.7)"><text class="V">V</text></g>
<g transform="matrix(1,0,0,.15,1241.7,1518.3)"><text class="G">G</text></g>
<g transform="matrix(1,0,0,.167,1241.7,1503.3)"><text class="H">H</text></g>
<g transform="matrix(1,0,0,.817,1241.7,1486.7)"><text class="R">R</text></g>
<g transform="matrix(1,0,0,.213,1291.7,1553.3)"><text class="Q">Q</text></g>
<g transform="matrix(1,0,0,2.947,1291.7,1532)"><text class="G">G</text></g>
<g transform="matrix(1,0,0,.167,1341.7,1553.3)"><text class="A">A</text></g>
<g transform="matrix(1,0,0,.25,1341.7,1536.7)"><text class="P">P</text></g>
<g transform="matrix(1,0,0,.783,1341.7,1511.7)"><text class="I">I</text></g>
<g transform="matrix(1,0,0,1.233,1341.7,1433.3)"><text class="V">V</text></g>
<g transform="matrix(1,0,0,.127,1391.7,1553.3)"><text class="A">A</text></g>
<g transform="matrix(1,0,0,.123,1391.7,1540.7)"><text class="L">L</text></g>
<g transform="matrix(1,0,0,.123,1391.7,1528.3)"><text class="R">R</text></g>
<g transform="matrix(1,0,0,.327,1391.7,1516)"><text class="E">E</text></g>
<g transform="matrix(1,0,0,.333,1391.7,1483.3)"><text class="V">V</text></g>
<g transform="matrix(1,0,0,.99,1391.7,1450)"><text class="I">I</text></g>
<g transform="matrix(1,0,0,.127,1441.7,1553.3)"><text class="A">A</text></g>
<g transform="matrix(1,0,0,.19,1441.7,1540.7)"><text class="V">V</text></g>
<g transform="matrix(1,0,0,1.10,1441.7,1521.7)"><text class="S">S</text></g>
<g transform="matrix(1,0,0,1.107,1441.7,1411.7)"><text class="T">T</text></g>
<g transform="matrix(1,0,0,.167,1491.7,1553.3)"><text class="R">R</text></g>
<g transform="matrix(1,0,0,.417,1491.7,1536.7)"><text class="L">L</text></g>
<g transform="matrix(1,0,0,.533,1491.7,1495)"><text class="I">I</text></g>
<g transform="matrix(1,0,0,1.357,1491.7,1441.7)"><text class="V">V</text></g>
<g transform="matrix(1,0,0,.127,1541.7,1553.3)"><text class="C">C</text></g>
<g transform="matrix(1,0,0,.123,1541.7,1540.7)"><text class="K">K</text></g>
<g transform="matrix(1,0,0,.123,1541.7,1528.3)"><text class="Y">Y</text></g>
<g transform="matrix(1,0,0,.66,1541.7,1516)"><text class="H">H</text></g>
<g transform="matrix(1,0,0,1.317,1541.7,1450)"><text class="R">R</text></g>
<g transform="matrix(1,0,0,.167,1591.7,1553.3)"><text class="E">E</text></g>
<g transform="matrix(1,0,0,.50,1591.7,1536.7)"><text class="S">S</text></g>
<g transform="matrix(1,0,0,2.407,1591.7,1486.7)"><text class="G">G</text></g>
<!-- Axes -->
<g stroke="#000" stroke-width="3" fill="none">
<path d="M67,53.3H84V470.7H2084M67,157.7H84M67,262H84M67,366.4H84"/>
<path d="M67,594.1H84V1011.5H2084M67,698.5H84M67,802.8H84M67,907.2H84"/>
<path d="M67,1135H84V1553.3H1683M67,1239.4H84M67,1343.7H84M67,1448.1H84"/>
</g>
<text class="tl" x="2" y="87">4.4</text>
<text class="tl" x="2" y="628">4.4</text>
<text class="tl" x="2" y="1169">4.4</text>
<text class="yl" transform="translate(44,258)rotate(-90)">bits</text>
<text class="yl" transform="translate(44,799)rotate(-90)">bits</text>
<text class="yl" transform="translate(44,1340)rotate(-90)">bits</text>
<!-- Column labels row 1 -->
<text class="lb" transform="translate(125.7,490)rotate(-90)">1</text>
<text class="lb" transform="translate(175.7,490)rotate(-90)">2</text>
<text class="lb" transform="translate(225.7,490)rotate(-90)">3</text>
<text class="lb" transform="translate(275.7,490)rotate(-90)">4</text>
<text class="lb" transform="translate(325.7,490)rotate(-90)">5</text>
<text class="lb" transform="translate(375.7,490)rotate(-90)">6</text>
<text class="lb" transform="translate(425.7,490)rotate(-90)">7</text>
<text class="lb" transform="translate(475.7,490)rotate(-90)">8</text>
<text class="lb" transform="translate(525.7,490)rotate(-90)">9</text>
<text class="lb" transform="translate(575.7,490)rotate(-90)">10</text>
<text class="lb" transform="translate(625.7,490)rotate(-90)">11</text>
<text class="lb" transform="translate(675.7,490)rotate(-90)">12</text>
<text class="lb" transform="translate(725.7,490)rotate(-90)">13</text>
<text class="lb" transform="translate(775.7,490)rotate(-90)">14</text>
<text class="lb" transform="translate(825.7,490)rotate(-90)">15</text>
<text class="lb" transform="translate(875.7,490)rotate(-90)">16</text>
<text class="lb" transform="translate(925.7,490)rotate(-90)">17</text>
<text class="lb" transform="translate(975.7,490)rotate(-90)">18</text>
<text class="lb" transform="translate(1025.7,490)rotate(-90)">19</text>
<text class="lb" transform="translate(1075.7,490)rotate(-90)">20</text>
<text class="lb" transform="translate(1125.7,490)rotate(-90)">21</text>
<text class="lb" transform="translate(1175.7,490)rotate(-90)">22</text>
<text class="lb" transform="translate(1225.7,490)rotate(-90)">23</text>
<text class="lb" transform="translate(1275.7,490)rotate(-90)">24</text>
<text class="lb" transform="translate(1325.7,490)rotate(-90)">25</text>
<text class="lb" transform="translate(1375.7,490)rotate(-90)">26</text>
<text class="lb" transform="translate(1425.7,490)rotate(-90)">27</text>
<text class="lb" transform="translate(1475.7,490)rotate(-90)">28</text>
<text class="lb" transform="translate(1525.7,490)rotate(-90)">29</text>
<text class="lb" transform="translate(1575.7,490)rotate(-90)">30</text>
<text class="lb" transform="translate(1625.7,490)rotate(-90)">31</text>
<text class="lb" transform="translate(1675.7,490)rotate(-90)">32</text>
<text class="lb" transform="translate(1725.7,490)rotate(-90)">33</text>
<text class="lb" transform="translate(1775.7,490)rotate(-90)">34</text>
<text class="lb" transform="translate(1825.7,490)rotate(-90)">35</text>
<text class="lb" transform="translate(1875.7,490)rotate(-90)">36</text>
<text class="lb" transform="translate(1925.7,490)rotate(-90)">37</text>
<text class="lb" transform="translate(1975.7,490)rotate(-90)">38</text>
<text class="lb" transform="translate(2025.7,490)rotate(-90)">39</text>
<text class="lb" transform="translate(2075.7,490)rotate(-90)">40</text>
<!-- row 2 labels -->
<text class="lb" transform="translate(125.7,1031)rotate(-90)">41</text>
<text class="lb" transform="translate(175.7,1031)rotate(-90)">42</text>
<text class="lb" transform="translate(225.7,1031)rotate(-90)">43</text>
<text class="lb" transform="translate(275.7,1031)rotate(-90)">44</text>
<text class="lb" transform="translate(325.7,1031)rotate(-90)">45</text>
<text class="lb" transform="translate(375.7,1031)rotate(-90)">46</text>
<text class="lb" transform="translate(425.7,1031)rotate(-90)">47</text>
<text class="lb" transform="translate(475.7,1031)rotate(-90)">48</text>
<text class="lb" transform="translate(525.7,1031)rotate(-90)">49</text>
<text class="lb" transform="translate(575.7,1031)rotate(-90)">50</text>
<text class="lb" transform="translate(625.7,1031)rotate(-90)">51</text>
<text class="lb" transform="translate(675.7,1031)rotate(-90)">52</text>
<text class="lb" transform="translate(725.7,1031)rotate(-90)">53</text>
<text class="lb" transform="translate(775.7,1031)rotate(-90)">54</text>
<text class="lb" transform="translate(825.7,1031)rotate(-90)">55</text>
<text class="lb" transform="translate(875.7,1031)rotate(-90)">56</text>
<text class="lb" transform="translate(925.7,1031)rotate(-90)">57</text>
<text class="lb" transform="translate(975.7,1031)rotate(-90)">58</text>
<text class="lb" transform="translate(1025.7,1031)rotate(-90)">59</text>
<text class="lb" transform="translate(1075.7,1031)rotate(-90)">60</text>
<text class="lb" transform="translate(1125.7,1031)rotate(-90)">61</text>
<text class="lb" transform="translate(1175.7,1031)rotate(-90)">62</text>
<text class="lb" transform="translate(1225.7,1031)rotate(-90)">63</text>
<text class="lb" transform="translate(1275.7,1031)rotate(-90)">64</text>
<text class="lb" transform="translate(1325.7,1031)rotate(-90)">65</text>
<text class="lb" transform="translate(1375.7,1031)rotate(-90)">66</text>
<text class="lb" transform="translate(1425.7,1031)rotate(-90)">67</text>
<text class="lb" transform="translate(1475.7,1031)rotate(-90)">68</text>
<text class="lb" transform="translate(1525.7,1031)rotate(-90)">69</text>
<text class="lb" transform="translate(1575.7,1031)rotate(-90)">70</text>
<text class="lb" transform="translate(1625.7,1031)rotate(-90)">71</text>
<text class="lb" transform="translate(1675.7,1031)rotate(-90)">72</text>
<text class="lb" transform="translate(1725.7,1031)rotate(-90)">73</text>
<text class="lb" transform="translate(1775.7,1031)rotate(-90)">74</text>
<text class="lb" transform="translate(1825.7,1031)rotate(-90)">75</text>
<text class="lb" transform="translate(1875.7,1031)rotate(-90)">76</text>
<text class="lb" transform="translate(1925.7,1031)rotate(-90)">77</text>
<text class="lb" transform="translate(1975.7,1031)rotate(-90)">78</text>
<text class="lb" transform="translate(2025.7,1031)rotate(-90)">79</text>
<text class="lb" transform="translate(2075.7,1031)rotate(-90)">80</text>
<!-- row 3 labels -->
<text class="lb" transform="translate(125.7,1572)rotate(-90)">81</text>
<text class="lb" transform="translate(175.7,1572)rotate(-90)">82</text>
<text class="lb" transform="translate(225.7,1572)rotate(-90)">83</text>
<text class="lb" transform="translate(275.7,1572)rotate(-90)">84</text>
<text class="lb" transform="translate(325.7,1572)rotate(-90)">85</text>
<text class="lb" transform="translate(375.7,1572)rotate(-90)">86</text>
<text class="lb" transform="translate(425.7,1572)rotate(-90)">87</text>
<text class="lb" transform="translate(475.7,1572)rotate(-90)">88</text>
<text class="lb" transform="translate(525.7,1572)rotate(-90)">89</text>
<text class="lb" transform="translate(575.7,1572)rotate(-90)">90</text>
<text class="lb" transform="translate(625.7,1572)rotate(-90)">91</text>
<text class="lb" transform="translate(675.7,1572)rotate(-90)">92</text>
<text class="lb" transform="translate(725.7,1572)rotate(-90)">93</text>
<text class="lb" transform="translate(775.7,1572)rotate(-90)">94</text>
<text class="lb" transform="translate(825.7,1572)rotate(-90)">95</text>
<text class="lb" transform="translate(875.7,1572)rotate(-90)">96</text>
<text class="lb" transform="translate(925.7,1572)rotate(-90)">97</text>
<text class="lb" transform="translate(975.7,1572)rotate(-90)">98</text>
<text class="lb" transform="translate(1025.7,1572)rotate(-90)">99</text>
<text class="lb" transform="translate(1075.7,1572)rotate(-90)">100</text>
<text class="lb" transform="translate(1125.7,1572)rotate(-90)">101</text>
<text class="lb" transform="translate(1175.7,1572)rotate(-90)">102</text>
<text class="lb" transform="translate(1225.7,1572)rotate(-90)">103</text>
<text class="lb" transform="translate(1275.7,1572)rotate(-90)">104</text>
<text class="lb" transform="translate(1325.7,1572)rotate(-90)">105</text>
<text class="lb" transform="translate(1375.7,1572)rotate(-90)">106</text>
<text class="lb" transform="translate(1425.7,1572)rotate(-90)">107</text>
<text class="lb" transform="translate(1475.7,1572)rotate(-90)">108</text>
<text class="lb" transform="translate(1525.7,1572)rotate(-90)">109</text>
<text class="lb" transform="translate(1575.7,1572)rotate(-90)">110</text>
<text class="lb" transform="translate(1625.7,1572)rotate(-90)">111</text>
<text class="lb" transform="translate(1679,1587)rotate(-90)">*</text>
</svg>
</body></html>
